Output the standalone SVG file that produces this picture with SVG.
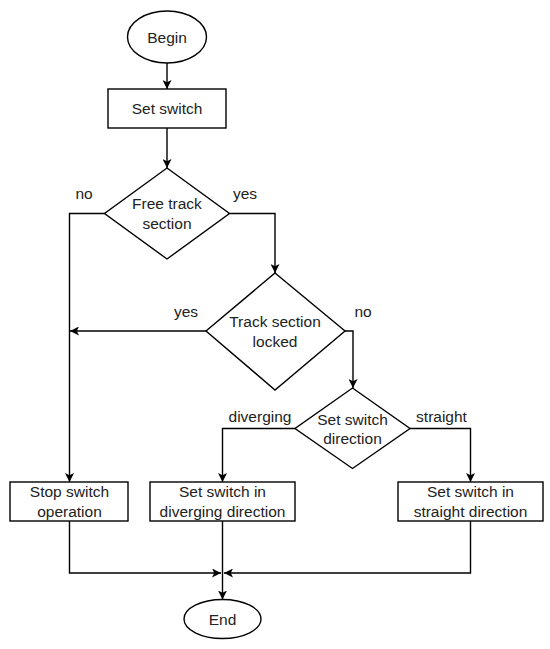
<svg xmlns="http://www.w3.org/2000/svg" width="550" height="649" viewBox="0 0 550 649">
<defs>
<style>
.shape{fill:#fff;stroke:#000;stroke-width:1.4}
.edge{fill:none;stroke:#000;stroke-width:1.4}
text{font-family:"Liberation Sans",Arial,sans-serif;font-size:15.5px;fill:#222;text-anchor:middle;dominant-baseline:central}
</style>
<marker id="arr" viewBox="0 0 10 10" refX="10" refY="5" markerWidth="9" markerHeight="9" orient="auto" markerUnits="userSpaceOnUse">
<path d="M0,0 L10,5 L0,10 L2.5,5 z" fill="#000"/>
</marker>
</defs>
<rect width="550" height="649" fill="#fff"/>
<g id="connectors">
<path class="edge" d="M167,63 V89" marker-end="url(#arr)"/>
<path class="edge" d="M167,128 V168" marker-end="url(#arr)"/>
<path class="edge" d="M104.5,213.5 H69.5 V482" marker-end="url(#arr)"/>
<path class="edge" d="M229.5,213.5 H275 V273" marker-end="url(#arr)"/>
<path class="edge" d="M206,331 H70" marker-end="url(#arr)"/>
<path class="edge" d="M345,331 H353 V388" marker-end="url(#arr)"/>
<path class="edge" d="M295,428.5 H222.5 V482" marker-end="url(#arr)"/>
<path class="edge" d="M410,428.5 H470.5 V482" marker-end="url(#arr)"/>
<path class="edge" d="M69.5,521 V573 H221" marker-end="url(#arr)"/>
<path class="edge" d="M222.5,521 V599.5" marker-end="url(#arr)"/>
<path class="edge" d="M470.5,521 V573 H224" marker-end="url(#arr)"/>
<text x="84" y="193">no</text>
<text x="245" y="193">yes</text>
<text x="186" y="311">yes</text>
<text x="363" y="311">no</text>
<text x="260" y="416">diverging</text>
<text x="441.5" y="416">straight</text>
</g>
<g id="begin">
<ellipse class="shape" cx="167" cy="37" rx="39.5" ry="26"/>
<text x="167" y="37">Begin</text>
</g>
<g id="set-switch">
<rect class="shape" x="108" y="89" width="118" height="39"/>
<text x="167" y="108.5">Set switch</text>
</g>
<g id="free-track">
<polygon class="shape" points="167,168 229.5,213.5 167,259 104.5,213.5"/>
<text x="167" y="203.5">Free track</text>
<text x="167" y="223">section</text>
</g>
<g id="track-locked">
<polygon class="shape" points="275,273 345,331 275,390 206,331"/>
<text x="275" y="321.5">Track section</text>
<text x="275" y="341">locked</text>
</g>
<g id="direction">
<polygon class="shape" points="352.5,388 410,428.5 352.5,468.5 295,428.5"/>
<text x="352.5" y="419">Set switch</text>
<text x="352.5" y="438.5">direction</text>
</g>
<g id="stop">
<rect class="shape" x="10" y="482" width="118" height="39"/>
<text x="69.5" y="491.5">Stop switch</text>
<text x="69.5" y="511">operation</text>
</g>
<g id="diverging">
<rect class="shape" x="150" y="482" width="145" height="39"/>
<text x="222.5" y="491.5">Set switch in</text>
<text x="222.5" y="511">diverging direction</text>
</g>
<g id="straight">
<rect class="shape" x="398" y="482" width="145" height="39"/>
<text x="470.5" y="491.5">Set switch in</text>
<text x="470.5" y="511">straight direction</text>
</g>
<g id="end">
<ellipse class="shape" cx="222.5" cy="619" rx="38.5" ry="19.5"/>
<text x="222.5" y="619">End</text>
</g>
</svg>
